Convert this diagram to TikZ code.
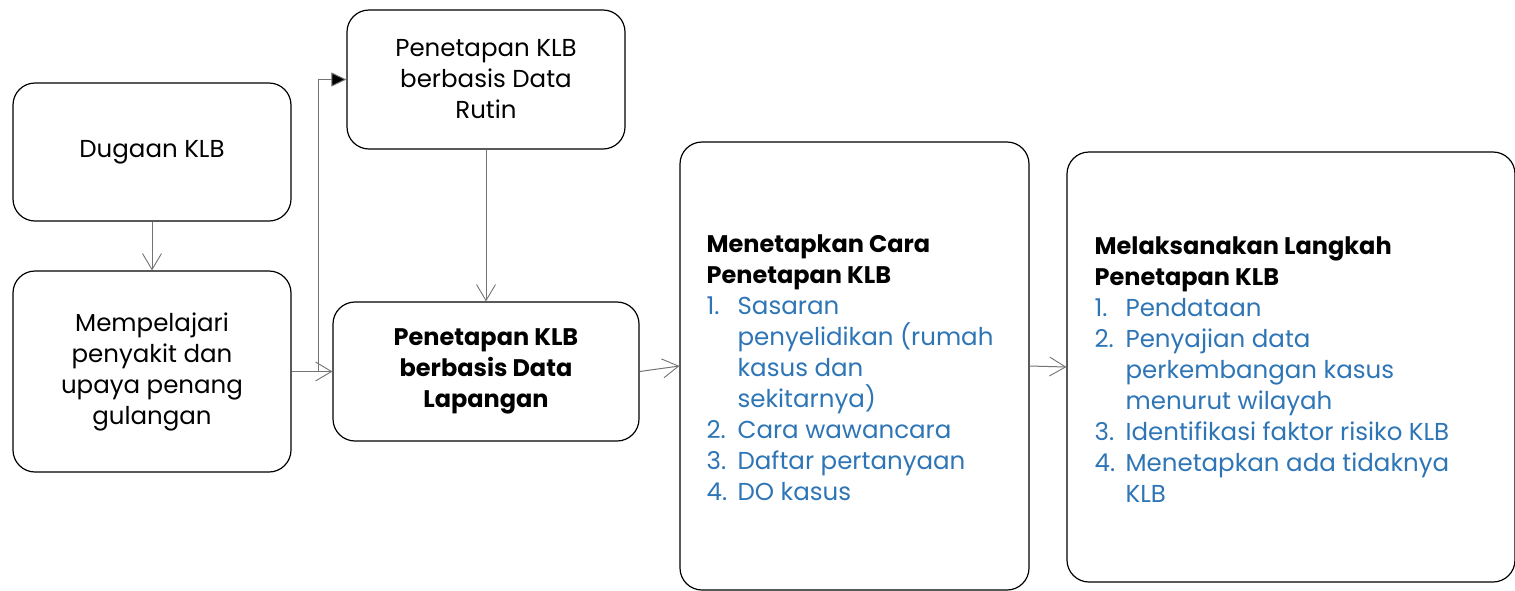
\documentclass[tikz,border=0pt]{standalone}
\usepackage{fontspec}
\setmainfont{Poppins}
\usetikzlibrary{arrows.meta}
\definecolor{listblue}{RGB}{46,117,182}
\tikzset{
  box/.style={draw=black, line width=1.2pt, rounded corners=22pt, inner sep=0pt, align=center, font=\fontsize{24.5}{31}\selectfont},
  conn/.style={draw=black!55, line width=1pt},
  openarrow/.style={conn, -{Straight Barb[length=16pt,width=19pt,line width=0.9pt]}},
  fillarrow/.style={conn, -{Triangle[length=15pt,width=14pt,fill=black]}},
  listtxt/.style={anchor=west, align=left, inner sep=0pt, font=\fontsize{24.5}{31}\selectfont},
}
\newcommand{\itm}[1]{\makebox[31pt][l]{#1}}
\begin{document}
\begin{tikzpicture}[x=1pt,y=-1pt]
\useasboundingbox (0,0) rectangle (1515,590);
\node[box, minimum width=278pt, minimum height=138pt] (dug) at (152,152) {Dugaan KLB};
\node[box, minimum width=278pt, minimum height=201pt] (mem) at (152,371.5) {Mempelajari\\penyakit dan\\upaya penang\\gulangan};
\node[box, minimum width=278pt, minimum height=139pt] (rut) at (486,79.5) {Penetapan KLB\\berbasis Data\\Rutin};
\node[box, minimum width=306pt, minimum height=139pt, font=\fontsize{24}{31}\selectfont\bfseries] (lap) at (486,371.5) {Penetapan KLB\\berbasis Data\\Lapangan};
\node[box, minimum width=349pt, minimum height=448pt] (cara) at (854.5,366) {};
\node[box, minimum width=448pt, minimum height=430pt] (mel) at (1291,367) {};
\node[listtxt] (caratxt) at ([xshift=27pt,yshift=-2pt]cara.west) {%
{\fontsize{24}{31}\selectfont\bfseries Menetapkan Cara}\\
{\fontsize{24}{31}\selectfont\bfseries Penetapan KLB}\\
\color{listblue}\itm{1.}Sasaran\\
\color{listblue}\itm{}penyelidikan (rumah\\
\color{listblue}\itm{}kasus dan\\
\color{listblue}\itm{}sekitarnya)\\
\color{listblue}\itm{2.}Cara wawancara\\
\color{listblue}\itm{3.}Daftar pertanyaan\\
\color{listblue}\itm{4.}DO kasus};
\node[listtxt] (meltxt) at ([xshift=28pt,yshift=-3pt]mel.west) {%
{\fontsize{24}{31}\selectfont\bfseries Melaksanakan Langkah}\\
{\fontsize{24}{31}\selectfont\bfseries Penetapan KLB}\\
\color{listblue}\itm{1.}Pendataan\\
\color{listblue}\itm{2.}Penyajian data\\
\color{listblue}\itm{}perkembangan kasus\\
\color{listblue}\itm{}menurut wilayah\\
\color{listblue}\itm{3.}Identifikasi faktor risiko KLB\\
\color{listblue}\itm{4.}Menetapkan ada tidaknya\\
\color{listblue}\itm{}KLB};
\coordinate (j) at (318,371.5);
\draw[openarrow] (dug.south) -- (mem.north);
\draw[conn] (mem.east) -- (j);
\draw[openarrow] (j) -- (lap.west);
\draw[fillarrow] (j) |- (rut.west);
\draw[openarrow] (rut.south) -- (lap.north);
\draw[openarrow] (lap.east) -- (cara.west);
\draw[openarrow] (cara.east) -- (mel.west);
\end{tikzpicture}
\end{document}
